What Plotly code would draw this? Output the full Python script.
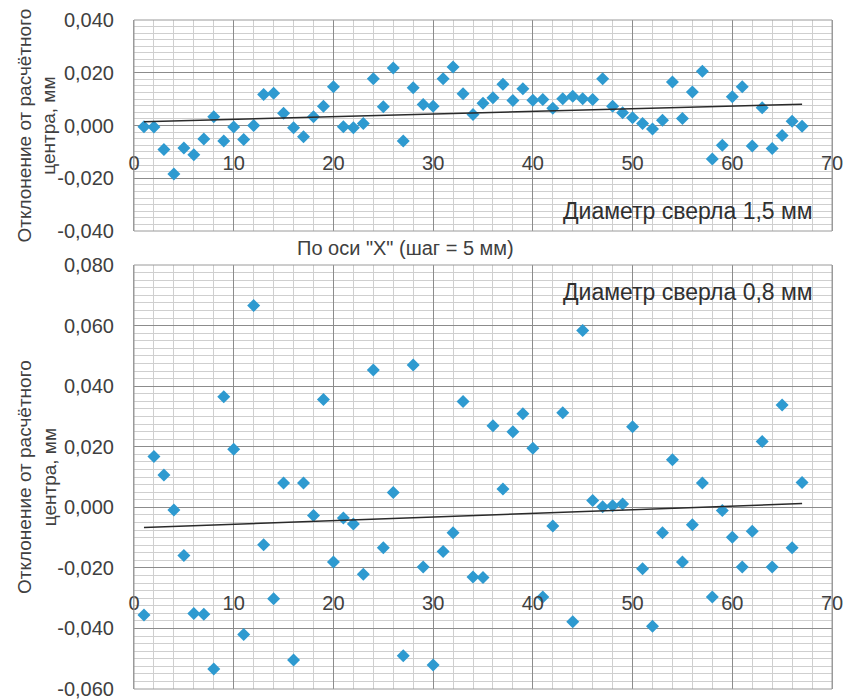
import numpy as np
import plotly.graph_objects as go

# ---------------- data ----------------
x_points = list(range(1, 68))

dev_15 = [-0.0005, -0.0006, -0.0091, -0.0184, -0.0085, -0.0111, -0.0051, 0.0033, -0.0059, -0.0006,
          -0.0053, 0.0000, 0.0118, 0.0122, 0.0046, -0.0009, -0.0043, 0.0033, 0.0073, 0.0147,
          -0.0005, -0.0009, 0.0008, 0.0177, 0.0071, 0.0218, -0.0059, 0.0143, 0.0080, 0.0073,
          0.0177, 0.0222, 0.0120, 0.0042, 0.0084, 0.0105, 0.0156, 0.0095, 0.0139, 0.0096,
          0.0099, 0.0065, 0.0101, 0.0111, 0.0101, 0.0099, 0.0177, 0.0073, 0.0048, 0.0029,
          0.0008, -0.0013, 0.0020, 0.0165, 0.0027, 0.0127, 0.0206, -0.0127, -0.0075, 0.0109,
          0.0147, -0.0078, 0.0067, -0.0087, -0.0038, 0.0016, -0.0003]

dev_08 = [-0.0356, 0.0168, 0.0107, -0.0009, -0.0159, -0.0351, -0.0353, -0.0534, 0.0365, 0.0192,
          -0.0420, 0.0666, -0.0124, -0.0302, 0.0080, -0.0504, 0.0080, -0.0027, 0.0356, -0.0181,
          -0.0035, -0.0055, -0.0221, 0.0453, -0.0134, 0.0049, -0.0490, 0.0470, -0.0197, -0.0521,
          -0.0146, -0.0084, 0.0349, -0.0230, -0.0232, 0.0269, 0.0060, 0.0249, 0.0309, 0.0195,
          -0.0296, -0.0062, 0.0312, -0.0378, 0.0584, 0.0022, 0.0002, 0.0005, 0.0011, 0.0266,
          -0.0203, -0.0393, -0.0084, 0.0157, -0.0181, -0.0058, 0.0080, -0.0296, -0.0011, -0.0099,
          -0.0197, -0.0079, 0.0217, -0.0197, 0.0338, -0.0134, 0.0082]

x_tick_vals = [0, 10, 20, 30, 40, 50, 60, 70]
x_tick_text = ["0", "10", "20", "30", "40", "50", "60", "70"]

top_y_vals = [-0.040, -0.020, 0.000, 0.020, 0.040]
top_y_text = ["-0,040", "-0,020", "0,000", "0,020", "0,040"]
bot_y_vals = [-0.060, -0.040, -0.020, 0.000, 0.020, 0.040, 0.060, 0.080]
bot_y_text = ["-0,060", "-0,040", "-0,020", "0,000", "0,020", "0,040", "0,060", "0,080"]

y_title = "Отклонение от расчётного<br>центра, мм"
x_title = "По оси \"X\" (шаг = 5 мм)"
label_15 = "Диаметр сверла 1,5 мм"
label_08 = "Диаметр сверла 0,8 мм"

# ---------------- figure ----------------
# the page body adds an 8px offset; margins compensate so that the
# plot areas land at screen pixels x 134..832, y 20..~690
W, H = 851, 700
mt, mb, ml, mr = 12, 17, 126, 27
ph = H - mt - mb
pw = W - ml - mr

def py(pix):
    return (691 - pix) / ph

def px(pix):
    return (pix - 134) / pw

top_dom = [py(231), py(20)]
bot_dom = [py(689), py(265)]

MARK = "#2E9AD0"
FONT = "Liberation Sans, Arial, sans-serif"
TXT = "#404040"

fig = go.Figure()

def add_series(xs, ys, xa, ya):
    fig.add_trace(go.Scatter(x=xs, y=ys, mode="markers", xaxis=xa, yaxis=ya,
                             marker=dict(symbol="diamond", size=10, color=MARK,
                                         line=dict(width=0)),
                             showlegend=False, hoverinfo="x+y"))
    k, b = np.polyfit(np.array(xs, float), np.array(ys, float), 1)
    xe = [xs[0], xs[-1]]
    fig.add_trace(go.Scatter(x=xe, y=[k * v + b for v in xe], mode="lines",
                             xaxis=xa, yaxis=ya, line=dict(color="#2a2a2a", width=1.5),
                             showlegend=False, hoverinfo="skip"))

add_series(x_points, dev_15, "x", "y")
add_series(x_points, dev_08, "x2", "y2")

grid_major = "#8c8c8c"
grid_minor = "#cfcfcf"

def xaxis_cfg(anchor_pos):
    return dict(range=[0, 70], tickvals=x_tick_vals, ticktext=x_tick_text,
                showgrid=True, gridcolor=grid_major, gridwidth=1,
                minor=dict(dtick=2, tick0=0, showgrid=True, gridcolor=grid_minor, gridwidth=1),
                zeroline=False, showline=False, ticks="", automargin=False,
                ticklabeloverflow="allow",
                anchor="free", position=anchor_pos,
                tickfont=dict(family=FONT, size=20, color=TXT))

def yaxis_cfg(dom, rng, vals, text):
    return dict(domain=dom, range=rng, tickvals=vals, ticktext=text,
                showgrid=True, gridcolor=grid_major, gridwidth=1,
                minor=dict(dtick=0.0025, tick0=0, showgrid=True, gridcolor=grid_minor, gridwidth=1),
                zeroline=False, showline=True, linecolor="#9a9a9a", linewidth=1, mirror=True,
                ticks="", ticklabelstandoff=15, automargin=False,
                ticklabeloverflow="allow",
                tickfont=dict(family=FONT, size=20, color=TXT))

fig.update_layout(
    width=W, height=H,
    margin=dict(l=ml, r=mr, t=mt, b=mb, autoexpand=False),
    paper_bgcolor="white", plot_bgcolor="white",
    xaxis=xaxis_cfg(py(149)),
    yaxis=yaxis_cfg(top_dom, [-0.040, 0.040], top_y_vals, top_y_text),
    xaxis2=xaxis_cfg(py(589)),
    yaxis2=yaxis_cfg(bot_dom, [-0.060, 0.080], bot_y_vals, bot_y_text),
    font=dict(family=FONT, color=TXT),
)
fig.layout.yaxis.anchor = "x"
fig.layout.yaxis2.anchor = "x2"

# plot-area borders
for xr, yr in [("x domain", "y domain"), ("x2 domain", "y2 domain")]:
    fig.add_shape(type="rect", xref=xr, yref=yr, x0=0, x1=1, y0=0, y1=1,
                  line=dict(color="#9a9a9a", width=1), fillcolor="rgba(0,0,0,0)", layer="above")

# axis titles
for dom in (top_dom, bot_dom):
    fig.add_annotation(text=y_title, xref="paper", yref="paper", x=px(37), xanchor="center",
                       y=(dom[0] + dom[1]) / 2, yanchor="middle", textangle=-90, showarrow=False,
                       font=dict(family=FONT, size=19, color=TXT))

fig.add_annotation(text=x_title, xref="paper", yref="paper",
                   x=px(405), y=py(248), xanchor="center", yanchor="middle",
                   showarrow=False, font=dict(family=FONT, size=20, color=TXT))

fig.add_annotation(text=label_15, xref="paper", yref="paper",
                   x=px(815), y=py(211), xanchor="right", yanchor="middle",
                   showarrow=False, font=dict(family=FONT, size=23, color="#303030"))
fig.add_annotation(text=label_08, xref="paper", yref="paper",
                   x=px(815), y=py(292), xanchor="right", yanchor="middle",
                   showarrow=False, font=dict(family=FONT, size=23, color="#303030"))

fig.write_html("out.html")
